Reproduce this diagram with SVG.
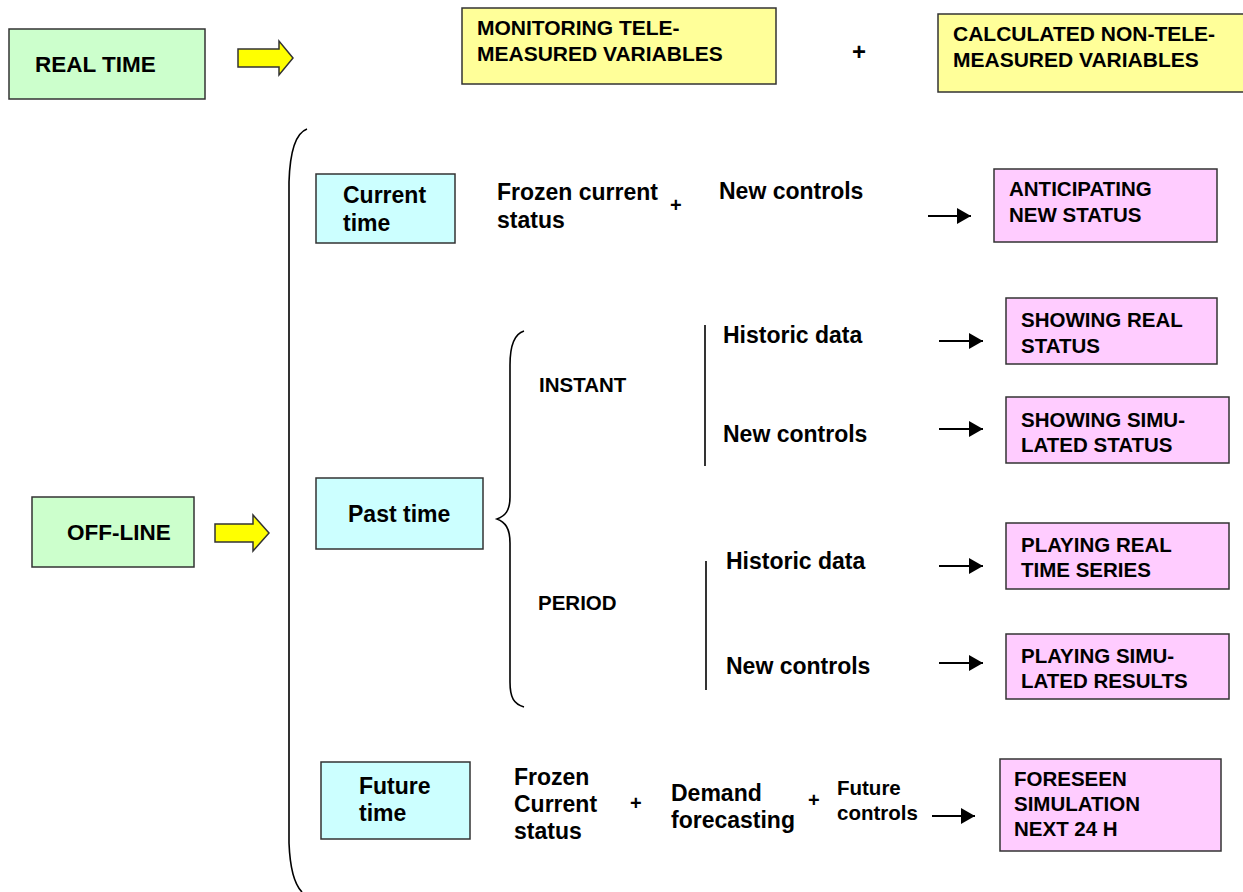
<svg xmlns="http://www.w3.org/2000/svg" width="1243" height="892" viewBox="0 0 1243 892">
<defs>
<style>
.bx{stroke:#333;stroke-width:1.5}
.g{fill:#ccffcc}.y{fill:#ffff99}.c{fill:#ccffff}.p{fill:#ffccff}
text{font-family:"Liberation Sans",Arial,sans-serif;font-weight:bold;fill:#000}
.L{font-size:22.5px}.M{font-size:23px}.S{font-size:20.5px}.K{font-size:21px}
.ya{fill:#ffff00;stroke:#333;stroke-width:1.5;stroke-linejoin:miter}
.ln{stroke:#000;stroke-width:1.6;fill:none}
.ar{stroke:#000;stroke-width:2;fill:none;marker-end:url(#h)}
</style>
<marker id="h" markerUnits="userSpaceOnUse" markerWidth="16" markerHeight="18" refX="15" refY="9" orient="auto">
<path d="M1,1 L15,9 L1,17 Z" fill="#000"/>
</marker>
</defs>
<rect width="1243" height="892" fill="#fff"/>

<g id="realtime"><rect class="bx g" x="9" y="29" width="196" height="70"/><text class="L" x="35" y="72">REAL TIME</text></g>
<g id="arrow-realtime"><path class="ya" d="M238,49 L279,49 L279,41 L293,58 L279,75 L279,67 L238,67 Z"/></g>
<g id="monitoring"><rect class="bx y" x="462" y="8" width="314" height="76"/><text class="K" x="477" y="35">MONITORING TELE-</text><text class="K" x="477" y="61">MEASURED VARIABLES</text></g>
<g id="plus-top"><text x="852" y="60" style="font-size:24px">+</text></g>
<g id="calculated"><rect class="bx y" x="938" y="14" width="310" height="78"/><text class="K" x="953" y="41">CALCULATED NON-TELE-</text><text class="K" x="953" y="67">MEASURED VARIABLES</text></g>

<g id="offline"><rect class="bx g" x="32" y="497" width="162" height="70"/><text class="L" x="67" y="540">OFF-LINE</text></g>
<g id="arrow-offline"><path class="ya" d="M215,524 L253,524 L253,515 L269,533 L253,551 L253,542 L215,542 Z"/></g>

<g id="brace-main"><path class="ln" d="M307,129 C296,133 290,150 289,182 L289,843 C290,868 294,884 302,892"/></g>

<g id="current-time"><rect class="bx c" x="316" y="174" width="139" height="69"/><text class="M" x="343" y="203">Current</text><text class="M" x="343" y="231">time</text></g>
<g id="frozen-current"><text class="M" x="497" y="200">Frozen current</text><text class="M" x="497" y="228">status</text></g>
<g id="plus-current"><text x="670" y="212" style="font-size:20px">+</text></g>
<g id="newcontrols-current"><text class="M" x="719" y="199">New controls</text></g>
<g id="anticipating"><rect class="bx p" x="994" y="169" width="223" height="73"/><text class="S" x="1009" y="196">ANTICIPATING</text><text class="S" x="1009" y="222">NEW STATUS</text></g>

<g id="past-time"><rect class="bx c" x="316" y="478" width="167" height="71"/><text class="M" x="348" y="522">Past time</text></g>
<g id="brace-past"><path class="ln" d="M524,331 C514,334 510,345 510,365 L510,497 C510,511 505,516 497,519 C505,522 510,528 510,543 L510,682 C510,698 514,704 524,707"/></g>
<g id="instant"><text class="S" x="539" y="392">INSTANT</text></g>
<g id="period"><text class="S" x="538" y="610">PERIOD</text></g>

<g id="instant-split"><line class="ln" x1="705" y1="325" x2="705" y2="466"/></g>
<g id="historic-instant"><text class="M" x="723" y="343">Historic data</text></g>
<g id="newcontrols-instant"><text class="M" x="723" y="442">New controls</text></g>
<g id="showing-real"><rect class="bx p" x="1006" y="298" width="211" height="66"/><text class="S" x="1021" y="327">SHOWING REAL</text><text class="S" x="1021" y="353">STATUS</text></g>
<g id="showing-sim"><rect class="bx p" x="1006" y="397" width="223" height="66"/><text class="S" x="1021" y="427">SHOWING SIMU-</text><text class="S" x="1021" y="452">LATED STATUS</text></g>

<g id="period-split"><line class="ln" x1="706" y1="561" x2="706" y2="690"/></g>
<g id="historic-period"><text class="M" x="726" y="569">Historic data</text></g>
<g id="newcontrols-period"><text class="M" x="726" y="674">New controls</text></g>
<g id="playing-real"><rect class="bx p" x="1006" y="523" width="223" height="66"/><text class="S" x="1021" y="552">PLAYING REAL</text><text class="S" x="1021" y="577">TIME SERIES</text></g>
<g id="playing-sim"><rect class="bx p" x="1006" y="634" width="223" height="65"/><text class="S" x="1021" y="663">PLAYING SIMU-</text><text class="S" x="1021" y="688">LATED RESULTS</text></g>

<g id="future-time"><rect class="bx c" x="321" y="762" width="149" height="77"/><text class="M" x="359" y="794">Future</text><text class="M" x="359" y="821">time</text></g>
<g id="frozen-future"><text class="M" x="514" y="785">Frozen</text><text class="M" x="514" y="812">Current</text><text class="M" x="514" y="839">status</text></g>
<g id="plus-future1"><text x="630" y="810" style="font-size:20px">+</text></g>
<g id="demand"><text class="M" x="671" y="801">Demand</text><text class="M" x="671" y="828">forecasting</text></g>
<g id="plus-future2"><text x="808" y="807" style="font-size:20px">+</text></g>
<g id="future-controls"><text class="S" x="837" y="795">Future</text><text class="S" x="837" y="820">controls</text></g>
<g id="foreseen"><rect class="bx p" x="1000" y="759" width="221" height="92"/><text class="S" x="1014" y="786">FORESEEN</text><text class="S" x="1014" y="811">SIMULATION</text><text class="S" x="1014" y="836">NEXT 24 H</text></g>

<g id="connectors">
<line class="ar" x1="928" y1="216" x2="971" y2="216"/>
<line class="ar" x1="939" y1="341" x2="983" y2="341"/>
<line class="ar" x1="939" y1="429" x2="983" y2="429"/>
<line class="ar" x1="939" y1="566" x2="983" y2="566"/>
<line class="ar" x1="939" y1="663" x2="983" y2="663"/>
<line class="ar" x1="932" y1="816" x2="975" y2="816"/>
</g>
</svg>
